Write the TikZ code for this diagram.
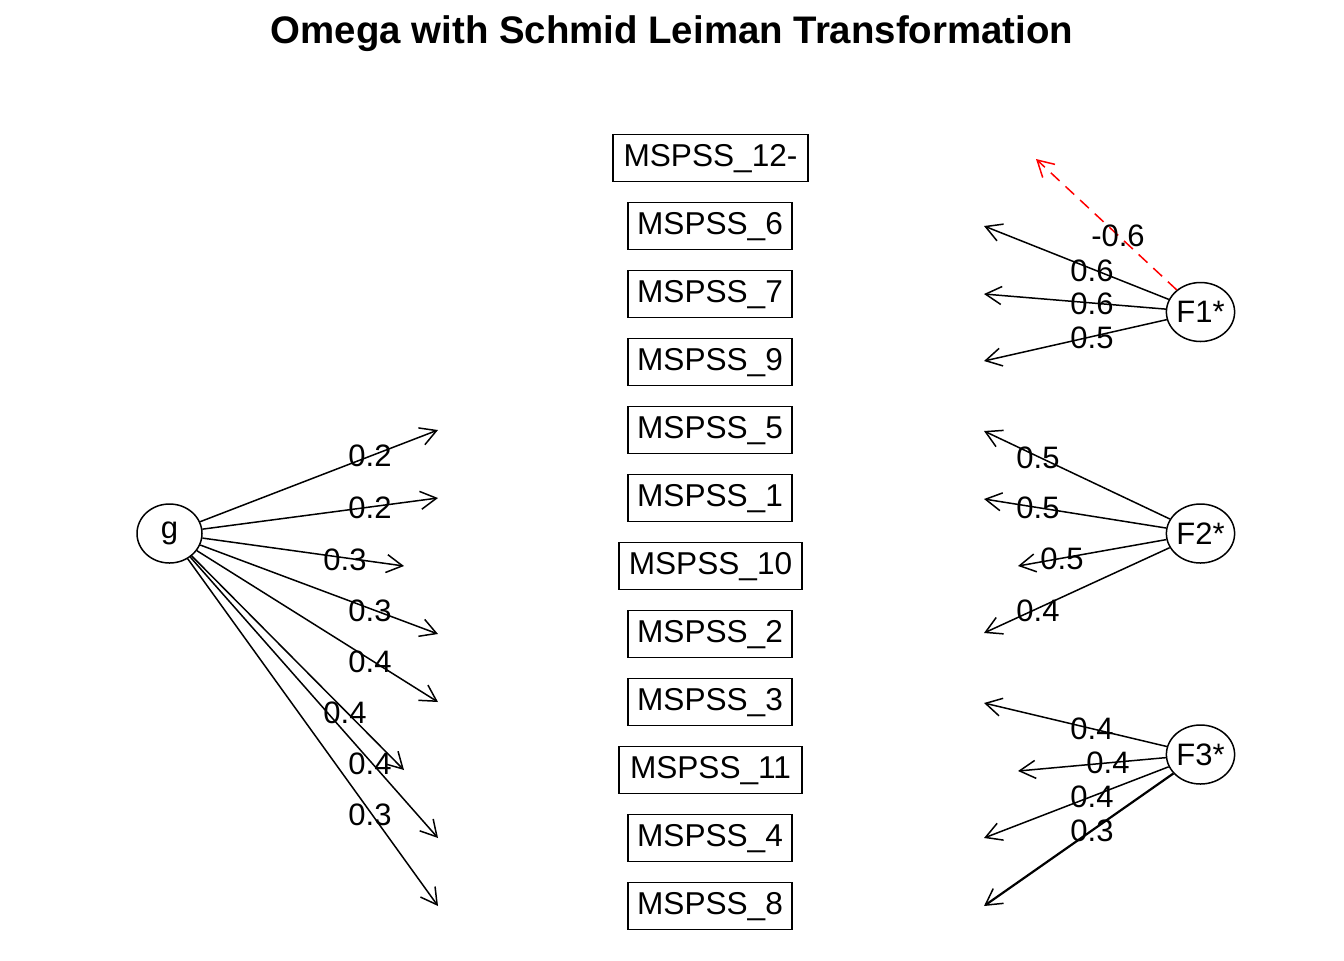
\documentclass[tikz,border=0pt]{standalone}
\usepackage{fontspec}
\setmainfont{Liberation Sans}
\usetikzlibrary{arrows.meta,shapes.geometric}
\begin{document}
\begin{tikzpicture}[x=0.5pt,y=-0.5pt,
  item/.style={draw, line width=0.75pt, inner xsep=0pt, inner ysep=0pt, minimum height=23.5pt, text depth=2.5pt, font=\fontsize{15.8}{17}\selectfont},
  fac/.style={draw, ellipse, line width=0.75pt, minimum width=32.5pt, minimum height=29.5pt, inner sep=0pt, font=\fontsize{15.5}{17}\selectfont},
  ld/.style={line width=0.75pt, -{Straight Barb[length=8pt,width=9pt,line width=0.75pt]}},
  neg/.style={ld, red, dash pattern=on 6pt off 4pt},
  lbl/.style={font=\fontsize{15.5}{17}\selectfont, inner sep=0pt},
]
\useasboundingbox (0,0) rectangle (1344,960);
\node[font=\bfseries\fontsize{19.2}{22}\selectfont] (title) at (672,34) {Omega with Schmid Leiman Transformation};

% items
\node[item, minimum width=97.5pt] (i12) at (710.5,158) {MSPSS\_12-};
\node[item, minimum width=82pt] (i6) at (710,226) {MSPSS\_6};
\node[item, minimum width=82pt] (i7) at (710,294) {MSPSS\_7};
\node[item, minimum width=82pt] (i9) at (710,362) {MSPSS\_9};
\node[item, minimum width=82pt] (i5) at (710,430) {MSPSS\_5};
\node[item, minimum width=82pt] (i1) at (710,498) {MSPSS\_1};
\node[item, minimum width=91.5pt] (i10) at (710.5,566) {MSPSS\_10};
\node[item, minimum width=82pt] (i2) at (710,634) {MSPSS\_2};
\node[item, minimum width=82pt] (i3) at (710,702) {MSPSS\_3};
\node[item, minimum width=91.5pt] (i11) at (710.5,770) {MSPSS\_11};
\node[item, minimum width=82pt] (i4) at (710,838) {MSPSS\_4};
\node[item, minimum width=82pt] (i8) at (710,906) {MSPSS\_8};

% factors
\node[fac] (g) at (169.5,533.5) {g};
\node[fac] (F1) at (1200.5,312) {F1*};
\node[fac] (F2) at (1200.5,533.5) {F2*};
\node[fac] (F3) at (1200.5,754.5) {F3*};

% g arrow ends
\coordinate (g5) at (438,430);
\coordinate (g1) at (438,498);
\coordinate (g10) at (404,566);
\coordinate (g2) at (438,634);
\coordinate (g3) at (438,702);
\coordinate (g11) at (404,770);
\coordinate (g4) at (438,838);
\coordinate (g8) at (438,906);
\foreach \t in {g5,g1,g10,g2,g3,g11,g4,g8} \draw[ld] (g) -- (\t);
\node[lbl] (lg5) at (370,456) {0.2};
\node[lbl] (lg1) at (370,508) {0.2};
\node[lbl] (lg10) at (345,560) {0.3};
\node[lbl] (lg2) at (370,611) {0.3};
\node[lbl] (lg3) at (370,662) {0.4};
\node[lbl] (lg11) at (345,713) {0.4};
\node[lbl] (lg4) at (370,764) {0.4};
\node[lbl] (lg8) at (370,815) {0.3};

% F1
\coordinate (f12) at (1036,159);
\coordinate (f6) at (984,226);
\coordinate (f7) at (984,294);
\coordinate (f9) at (984,361);
\draw[neg] (F1) -- (f12);
\draw[ld] (F1) -- (f6);
\draw[ld] (F1) -- (f7);
\draw[ld] (F1) -- (f9);
\node[lbl] (l12) at (1118,236) {-0.6};
\node[lbl] (l6) at (1092,271) {0.6};
\node[lbl] (l7) at (1092,304) {0.6};
\node[lbl] (l9) at (1092,338) {0.5};

% F2
\coordinate (f5) at (984,431);
\coordinate (f1) at (984,499);
\coordinate (f10) at (1018,566);
\coordinate (f2) at (984,633);
\draw[ld] (F2) -- (f5);
\draw[ld] (F2) -- (f1);
\draw[ld] (F2) -- (f10);
\draw[ld] (F2) -- (f2);
\node[lbl] (l5) at (1038,458) {0.5};
\node[lbl] (l1) at (1038,508) {0.5};
\node[lbl] (l10) at (1062,559) {0.5};
\node[lbl] (l2) at (1038,611) {0.4};

% F3
\coordinate (f3) at (984,703);
\coordinate (f11) at (1018,771);
\coordinate (f4) at (984,838);
\coordinate (f8) at (984,906);
\draw[ld] (F3) -- (f3);
\draw[ld] (F3) -- (f11);
\draw[ld] (F3) -- (f4);
\draw[ld, line width=1.1pt] (F3) -- (f8);
\node[lbl] (l3) at (1092,729) {0.4};
\node[lbl] (l11) at (1108,763) {0.4};
\node[lbl] (l4) at (1092,797) {0.4};
\node[lbl] (l8) at (1092,831) {0.3};
\end{tikzpicture}
\end{document}
